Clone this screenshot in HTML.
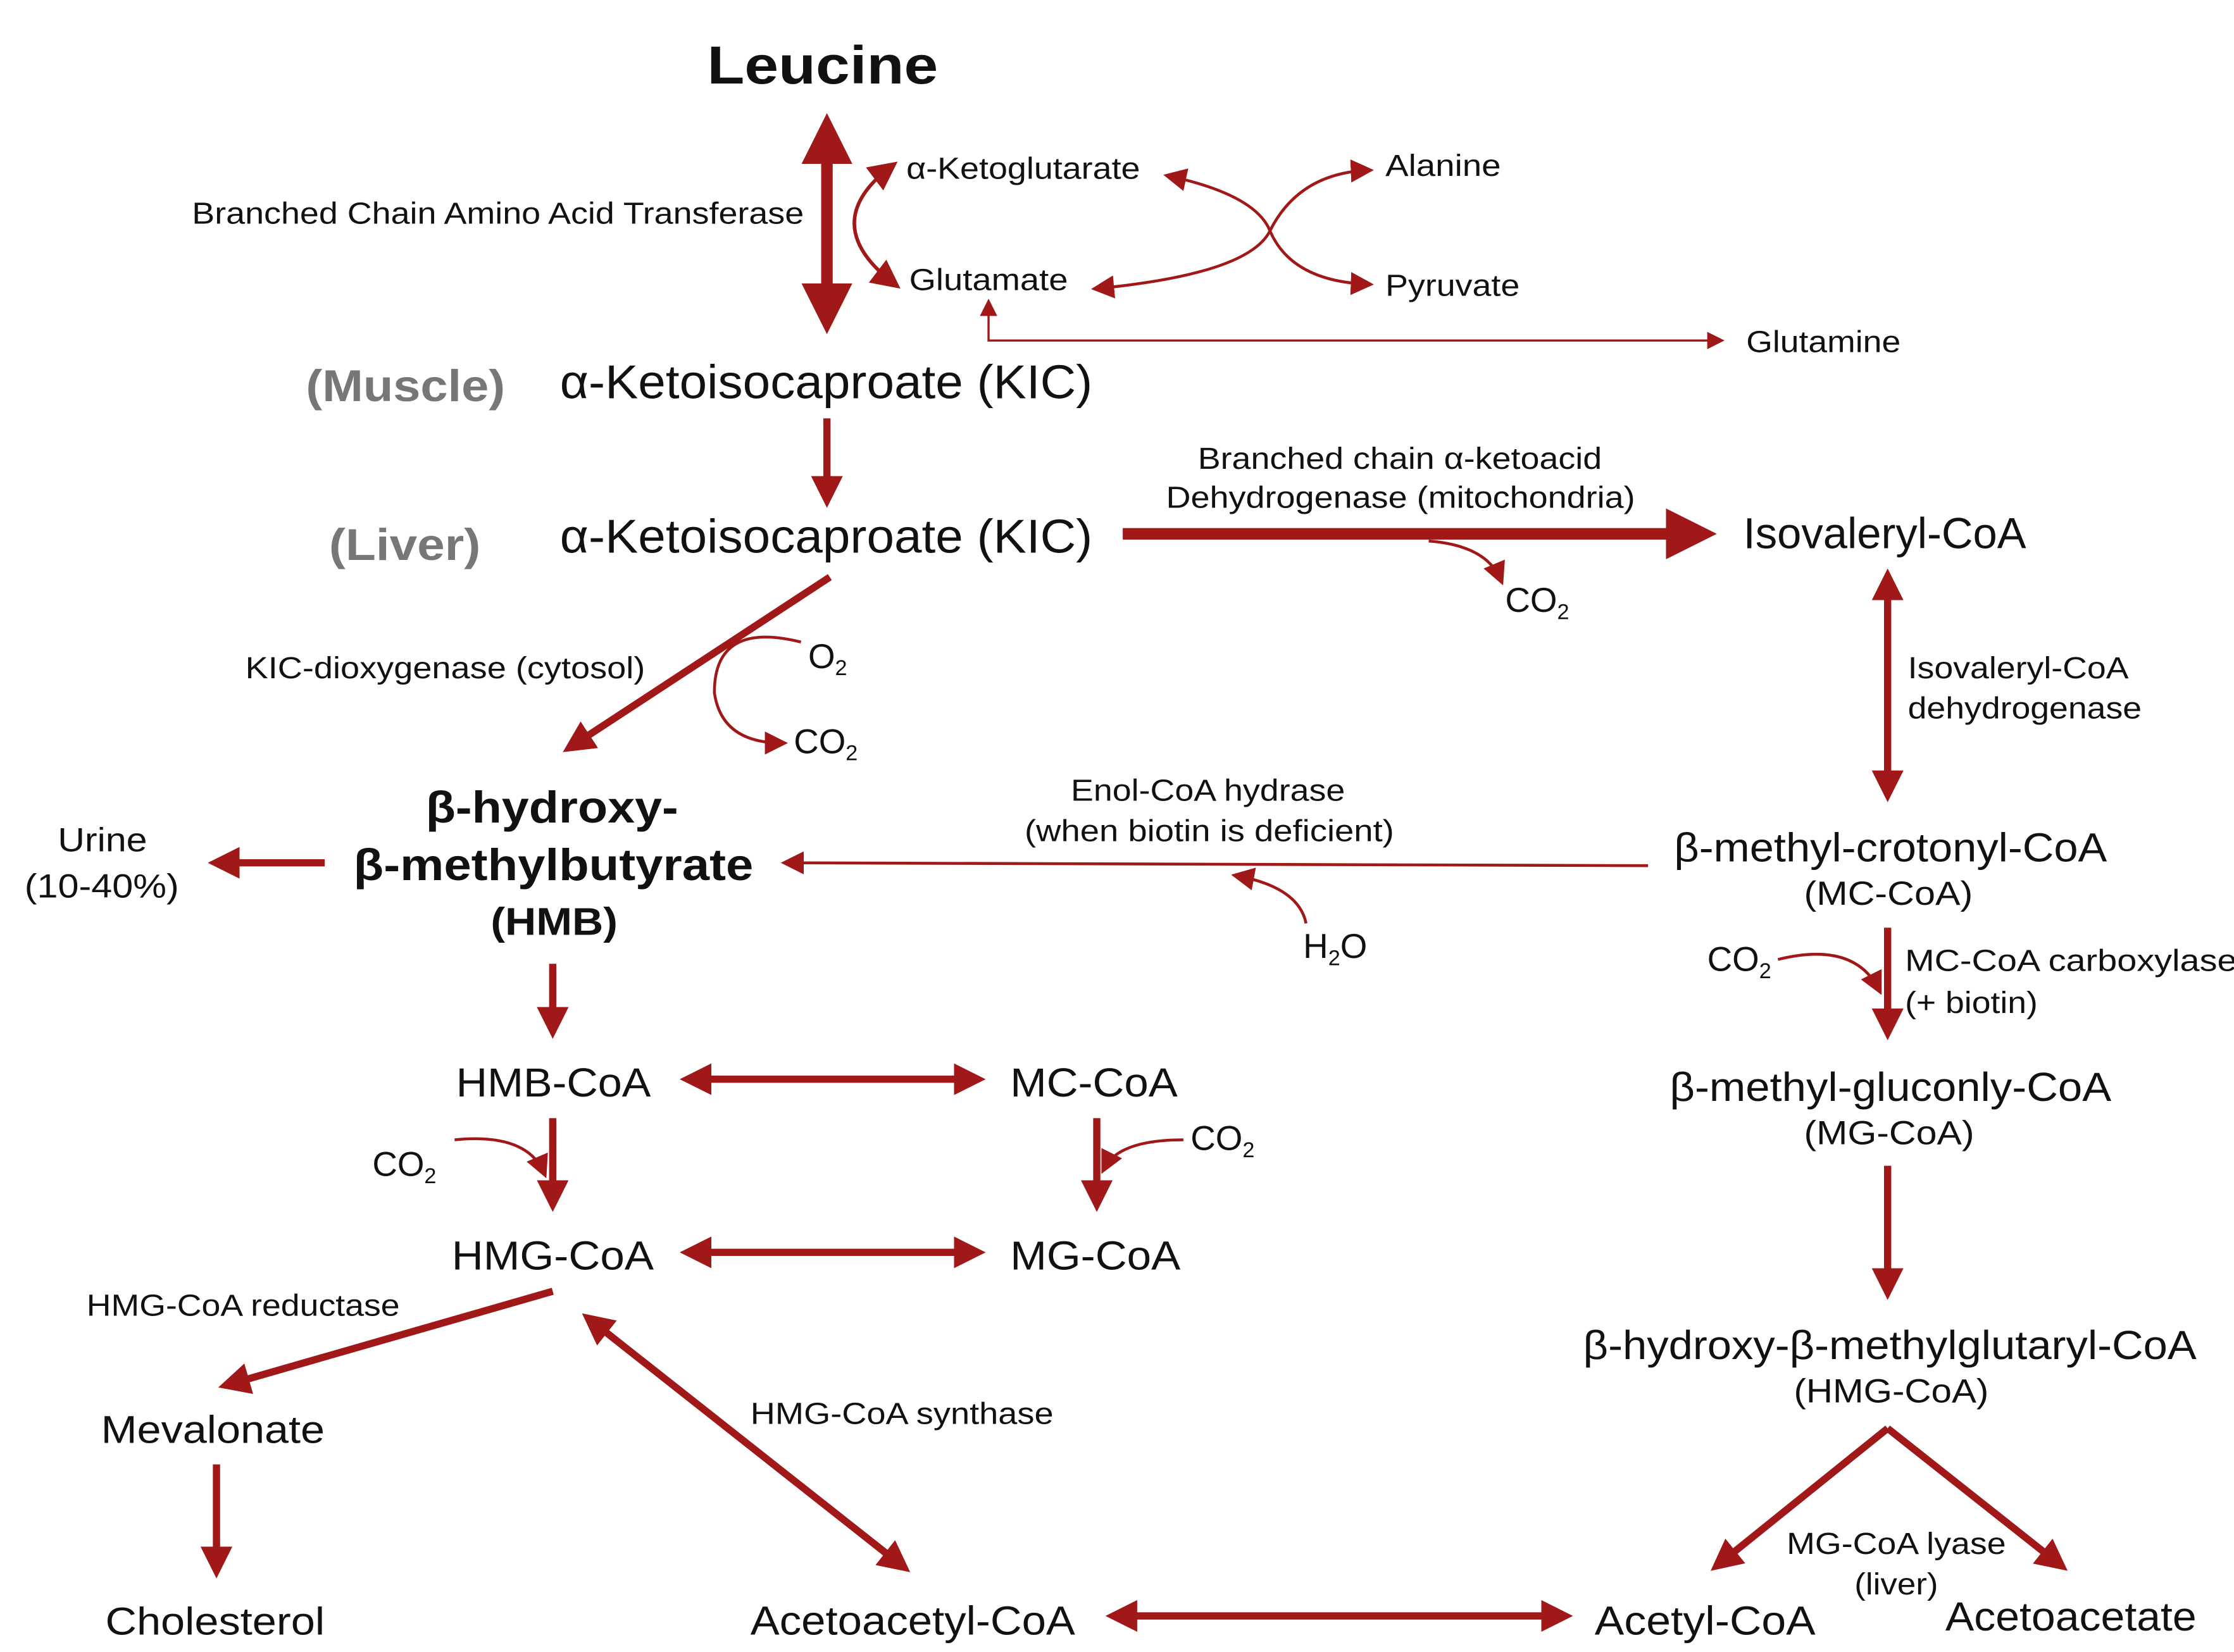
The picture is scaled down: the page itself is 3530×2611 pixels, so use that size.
<!DOCTYPE html>
<html><head><meta charset="utf-8"><style>
html,body{margin:0;padding:0;background:#fff;}
svg{display:block;}
text{font-family:"Liberation Sans",Arial,sans-serif;fill:#111;}
</style></head><body>
<svg width="3530" height="2611" viewBox="0 0 1548 1145" preserveAspectRatio="none" xmlns="http://www.w3.org/2000/svg">
<defs>
<marker id="a" markerWidth="4.4" markerHeight="4.4" refX="3.2" refY="2.2" orient="auto-start-reverse" markerUnits="strokeWidth"><polygon points="0,0 4.4,2.2 0,4.4" fill="#a01818"/></marker>
<marker id="t" markerWidth="8" markerHeight="8" refX="6" refY="4" orient="auto-start-reverse" markerUnits="strokeWidth"><polygon points="0,0 8,4 0,8" fill="#a01818"/></marker>
</defs>
<g stroke="#a01818" fill="none" stroke-linecap="butt">
<line x1="573" y1="88" x2="573" y2="222" stroke-width="8" marker-start="url(#a)" marker-end="url(#a)"/>
<path d="M618,115 Q565,155 620,197" stroke-width="2.5" marker-start="url(#t)" marker-end="url(#t)"/>
<path d="M810,122 Q870,135 880,160 Q895,195 948,197" stroke-width="2" marker-start="url(#t)" marker-end="url(#t)"/>
<path d="M760,200 Q865,190 880,160 Q900,120 948,118" stroke-width="2" marker-start="url(#t)" marker-end="url(#t)"/>
<path d="M685,210 L685,236 L1192,236" stroke-width="1.5" marker-start="url(#t)" marker-end="url(#t)"/>
<line x1="573" y1="290" x2="573" y2="346" stroke-width="5" marker-end="url(#a)"/>
<line x1="778" y1="370" x2="1180" y2="370" stroke-width="8" marker-end="url(#a)"/>
<path d="M990,375 Q1030,378 1040,402" stroke-width="2" marker-end="url(#t)"/>
<line x1="1308" y1="400" x2="1308" y2="550" stroke-width="5" marker-start="url(#a)" marker-end="url(#a)"/>
<line x1="575" y1="400" x2="395" y2="518" stroke-width="5" marker-end="url(#a)"/>
<path d="M555,445 Q495,430 495,480 Q500,515 542,515" stroke-width="2" marker-end="url(#t)"/>
<line x1="225" y1="598" x2="150" y2="598" stroke-width="5" marker-end="url(#a)"/>
<line x1="1142" y1="600" x2="545" y2="598" stroke-width="2" marker-end="url(#t)"/>
<path d="M905,640 Q900,615 857,607" stroke-width="2" marker-end="url(#t)"/>
<line x1="1308" y1="643" x2="1308" y2="715" stroke-width="5" marker-end="url(#a)"/>
<path d="M1232,665 Q1285,652 1302,686" stroke-width="2" marker-end="url(#t)"/>
<line x1="1308" y1="808" x2="1308" y2="895" stroke-width="5" marker-end="url(#a)"/>
<line x1="1308" y1="990" x2="1190" y2="1085" stroke-width="5" marker-end="url(#a)"/>
<line x1="1308" y1="990" x2="1428" y2="1085" stroke-width="5" marker-end="url(#a)"/>
<line x1="772" y1="1120" x2="1084" y2="1120" stroke-width="5" marker-start="url(#a)" marker-end="url(#a)"/>
<line x1="626" y1="1086" x2="408" y2="914" stroke-width="5" marker-start="url(#a)" marker-end="url(#a)"/>
<line x1="383" y1="668" x2="383" y2="714" stroke-width="5" marker-end="url(#a)"/>
<line x1="477" y1="748" x2="677" y2="748" stroke-width="5" marker-start="url(#a)" marker-end="url(#a)"/>
<line x1="383" y1="775" x2="383" y2="834" stroke-width="5" marker-end="url(#a)"/>
<path d="M315,790 Q365,785 377,813" stroke-width="2" marker-end="url(#t)"/>
<line x1="760" y1="775" x2="760" y2="834" stroke-width="5" marker-end="url(#a)"/>
<path d="M820,790 Q775,790 765,810" stroke-width="2" marker-end="url(#t)"/>
<line x1="477" y1="868" x2="677" y2="868" stroke-width="5" marker-start="url(#a)" marker-end="url(#a)"/>
<line x1="383" y1="895" x2="157" y2="960" stroke-width="5" marker-end="url(#a)"/>
<line x1="150" y1="1015" x2="150" y2="1088" stroke-width="5" marker-end="url(#a)"/>
</g>
<g lengthAdjust="spacingAndGlyphs">
<text x="490" y="58" font-size="37" font-weight="bold" textLength="160" lengthAdjust="spacingAndGlyphs">Leucine</text>
<text x="133" y="155" font-size="21" textLength="424" lengthAdjust="spacingAndGlyphs">Branched Chain Amino Acid Transferase</text>
<text x="628" y="124" font-size="21" textLength="162" lengthAdjust="spacingAndGlyphs">α-Ketoglutarate</text>
<text x="630" y="201" font-size="21" textLength="110" lengthAdjust="spacingAndGlyphs">Glutamate</text>
<text x="960" y="122" font-size="21" textLength="80" lengthAdjust="spacingAndGlyphs">Alanine</text>
<text x="960" y="205" font-size="21" textLength="93" lengthAdjust="spacingAndGlyphs">Pyruvate</text>
<text x="1210" y="244" font-size="21" textLength="107" lengthAdjust="spacingAndGlyphs">Glutamine</text>
<text x="212" y="278" font-size="31" font-weight="bold" style="fill:#777" textLength="138" lengthAdjust="spacingAndGlyphs">(Muscle)</text>
<text x="388" y="276" font-size="33" textLength="369" lengthAdjust="spacingAndGlyphs">α-Ketoisocaproate (KIC)</text>
<text x="228" y="388" font-size="31" font-weight="bold" style="fill:#777" textLength="105" lengthAdjust="spacingAndGlyphs">(Liver)</text>
<text x="388" y="383" font-size="33" textLength="369" lengthAdjust="spacingAndGlyphs">α-Ketoisocaproate (KIC)</text>
<text x="830" y="325" font-size="21" textLength="280" lengthAdjust="spacingAndGlyphs">Branched chain α-ketoacid</text>
<text x="808" y="352" font-size="21" textLength="325" lengthAdjust="spacingAndGlyphs">Dehydrogenase (mitochondria)</text>
<text x="1043" y="424" font-size="24">CO<tspan font-size="15" dy="5">2</tspan></text>
<text x="1208" y="380" font-size="30" textLength="196" lengthAdjust="spacingAndGlyphs">Isovaleryl-CoA</text>
<text x="1322" y="470" font-size="21" textLength="153" lengthAdjust="spacingAndGlyphs">Isovaleryl-CoA</text>
<text x="1322" y="498" font-size="21" textLength="162" lengthAdjust="spacingAndGlyphs">dehydrogenase</text>
<text x="170" y="470" font-size="21" textLength="277" lengthAdjust="spacingAndGlyphs">KIC-dioxygenase (cytosol)</text>
<text x="560" y="463" font-size="24">O<tspan font-size="15" dy="5">2</tspan></text>
<text x="550" y="522" font-size="24">CO<tspan font-size="15" dy="5">2</tspan></text>
<text x="295" y="570" font-size="31" font-weight="bold" textLength="175" lengthAdjust="spacingAndGlyphs">β-hydroxy-</text>
<text x="245" y="610" font-size="31" font-weight="bold" textLength="277" lengthAdjust="spacingAndGlyphs">β-methylbutyrate</text>
<text x="340" y="648" font-size="27" font-weight="bold" textLength="88" lengthAdjust="spacingAndGlyphs">(HMB)</text>
<text x="40" y="590" font-size="23" textLength="62" lengthAdjust="spacingAndGlyphs">Urine</text>
<text x="17" y="622" font-size="23" textLength="107" lengthAdjust="spacingAndGlyphs">(10-40%)</text>
<text x="742" y="555" font-size="21" textLength="190" lengthAdjust="spacingAndGlyphs">Enol-CoA hydrase</text>
<text x="710" y="583" font-size="21" textLength="256" lengthAdjust="spacingAndGlyphs">(when biotin is deficient)</text>
<text x="903" y="664" font-size="24">H<tspan font-size="15" dy="5">2</tspan><tspan dy="-5">O</tspan></text>
<text x="1160" y="597" font-size="28" textLength="300" lengthAdjust="spacingAndGlyphs">β-methyl-crotonyl-CoA</text>
<text x="1250" y="627" font-size="23" textLength="117" lengthAdjust="spacingAndGlyphs">(MC-CoA)</text>
<text x="1183" y="673" font-size="24">CO<tspan font-size="15" dy="5">2</tspan></text>
<text x="1320" y="673" font-size="21" textLength="230" lengthAdjust="spacingAndGlyphs">MC-CoA carboxylase</text>
<text x="1320" y="702" font-size="21" textLength="92" lengthAdjust="spacingAndGlyphs">(+ biotin)</text>
<text x="1157" y="763" font-size="28" textLength="306" lengthAdjust="spacingAndGlyphs">β-methyl-gluconly-CoA</text>
<text x="1250" y="793" font-size="23" textLength="118" lengthAdjust="spacingAndGlyphs">(MG-CoA)</text>
<text x="1097" y="942" font-size="28" textLength="425" lengthAdjust="spacingAndGlyphs">β-hydroxy-β-methylglutaryl-CoA</text>
<text x="1243" y="972" font-size="23" textLength="135" lengthAdjust="spacingAndGlyphs">(HMG-CoA)</text>
<text x="1238" y="1077" font-size="21" textLength="152" lengthAdjust="spacingAndGlyphs">MG-CoA lyase</text>
<text x="1285" y="1105" font-size="21" textLength="58" lengthAdjust="spacingAndGlyphs">(liver)</text>
<text x="1105" y="1133" font-size="28" textLength="153" lengthAdjust="spacingAndGlyphs">Acetyl-CoA</text>
<text x="1348" y="1130" font-size="28" textLength="174" lengthAdjust="spacingAndGlyphs">Acetoacetate</text>
<text x="520" y="1133" font-size="28" textLength="225" lengthAdjust="spacingAndGlyphs">Acetoacetyl-CoA</text>
<text x="520" y="987" font-size="21" textLength="210" lengthAdjust="spacingAndGlyphs">HMG-CoA synthase</text>
<text x="316" y="760" font-size="28" textLength="135" lengthAdjust="spacingAndGlyphs">HMB-CoA</text>
<text x="700" y="760" font-size="28" textLength="116" lengthAdjust="spacingAndGlyphs">MC-CoA</text>
<text x="258" y="815" font-size="24">CO<tspan font-size="15" dy="5">2</tspan></text>
<text x="825" y="797" font-size="24">CO<tspan font-size="15" dy="5">2</tspan></text>
<text x="313" y="880" font-size="28" textLength="140" lengthAdjust="spacingAndGlyphs">HMG-CoA</text>
<text x="700" y="880" font-size="28" textLength="118" lengthAdjust="spacingAndGlyphs">MG-CoA</text>
<text x="60" y="912" font-size="21" textLength="217" lengthAdjust="spacingAndGlyphs">HMG-CoA reductase</text>
<text x="70" y="1000" font-size="27" textLength="155" lengthAdjust="spacingAndGlyphs">Mevalonate</text>
<text x="73" y="1133" font-size="27" textLength="152" lengthAdjust="spacingAndGlyphs">Cholesterol</text>
</g>
</svg>
</body></html>
